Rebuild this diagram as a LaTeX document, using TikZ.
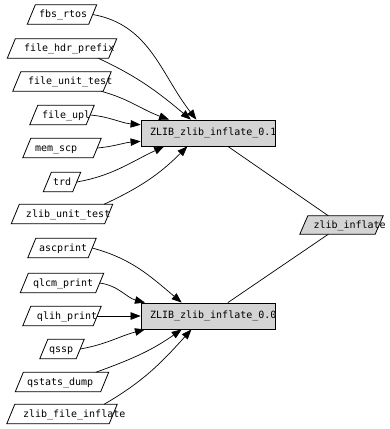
\documentclass[tikz,border=0pt]{standalone}
\usepackage{fontspec}
\setmonofont{DejaVu Sans Mono}
\usetikzlibrary{arrows.meta}

\pgfdeclarelayer{bg}
\pgfsetlayers{bg,main}

\tikzset{
  src/.style={rectangle, inner sep=0pt, text height=12.5pt, text depth=6.5pt,
    minimum height=19pt, minimum width=#1},
  para/.style={draw, line width=0.8pt, fill=white},
  blk/.style={draw, fill=black!17, rectangle, inner sep=0pt, minimum width=134pt,
    minimum height=26pt, line width=0.8pt},
  edge/.style={line width=0.7pt, -{Triangle[length=10pt, width=7.5pt]}}
}
% text placed from its start, measured from the node centre
\newcommand{\ntext}[2]{\makebox[0pt][l]{\hspace*{#1}#2}}

\begin{document}
\begin{tikzpicture}[x=1pt, y=-1pt, font=\ttfamily\fontsize{10}{12}\selectfont]

  \useasboundingbox (0,0) rectangle (389,429);

  % Callees
  \node[blk] (z01) at (208,133) {\ntext{-58pt}{ZLIB\_zlib\_inflate\_0.1}};
  \node[blk] (z00) at (208,316) {\ntext{-58pt}{ZLIB\_zlib\_inflate\_0.0}};
  \node[src=75pt, minimum height=18pt, text height=12pt, text depth=6pt] (zinf) at (341.5,225) {\ntext{-28pt}{zlib\_inflate}};

  % Callers of version 0.1
  \node[src=61pt]  (fbs)      at (62,14.5) {\ntext{-23pt}{fbs\_rtos}};
  \node[src=101pt] (hdr)      at (62,48.5) {\ntext{-38pt}{file\_hdr\_prefix}};
  \node[src=90pt]  (unittest) at (62,81.5) {\ntext{-34pt}{file\_unit\_test}};
  \node[src=56pt]  (upl)      at (62,115)  {\ntext{-20pt}{file\_upl}};
  \node[src=70pt]  (memscp)   at (62,148)  {\ntext{-27pt}{mem\_scp}};
  \node[src=29pt]  (trd)      at (62,182)  {\ntext{-9pt}{trd}};
  \node[src=93pt]  (zut)      at (62,214)  {\ntext{-36pt}{zlib\_unit\_test}};

  % Callers of version 0.0
  \node[src=60pt]  (asc)    at (62,248) {\ntext{-23pt}{ascprint}};
  \node[src=75pt]  (qlcm)   at (62,283) {\ntext{-29pt}{qlcm\_print}};
  \node[src=70pt]  (qlih)   at (62,316) {\ntext{-25pt}{qlih\_print}};
  \node[src=36pt]  (qssp)   at (62,349) {\ntext{-13pt}{qssp}};
  \node[src=85pt]  (qstats) at (62,382) {\ntext{-35pt}{qstats\_dump}};
  \node[src=102pt] (zfi)    at (62,414) {\ntext{-39pt}{zlib\_file\_inflate}};

  % Slanted outlines behind the texts
  \begin{pgfonlayer}{bg}
    \foreach \n in {fbs,hdr,unittest,upl,memscp,trd,zut,asc,qlcm,qlih,qssp,qstats,zfi}
      \draw[para] ([xshift=-4pt]\n.south west) -- ([xshift=4pt]\n.north west)
        -- ([xshift=4pt]\n.north east) -- ([xshift=-4pt]\n.south east) -- cycle;
    \draw[para, fill=black!17] ([xshift=-4pt]zinf.south west) -- ([xshift=4pt]zinf.north west)
      -- ([xshift=4pt]zinf.north east) -- ([xshift=-4pt]zinf.south east) -- cycle;
  \end{pgfonlayer}

  % Edges into 0.1
  \draw[edge] (fbs.east) to[out=-10, in=128] (z01.131);
  \draw[edge] (hdr.-15) to[out=-25, in=140] (z01.142);
  \draw[edge] (unittest.-14) to[out=-15, in=160] (z01.161);
  \draw[edge] (upl.east) to[out=-5, in=175] (z01.173);
  \draw[edge] (memscp.east) to[out=5, in=185] (z01.187);
  \draw[edge] (trd.east) to[out=10, in=205] (z01.197);
  \draw[edge] (zut.13) to[out=25, in=225] (z01.213);

  % Edges into 0.0
  \draw[edge] (asc.east) to[out=-15, in=140] (z00.153);
  \draw[edge] (qlcm.east) to[out=-8, in=165] (z00.168);
  \draw[edge] (qlih.east) -- (z00.180);
  \draw[edge] (qssp.east) to[out=10, in=195] (z00.192);
  \draw[edge] (qstats.16) to[out=20, in=215] (z00.207);
  \draw[edge] (zfi.13) to[out=30, in=228] (z00.219);

  % Links to zlib_inflate
  \draw[line width=0.7pt] (z01.-34) -- (zinf.145);
  \draw[line width=0.7pt] (z00.34) -- (zinf.-145);

\end{tikzpicture}
\end{document}
